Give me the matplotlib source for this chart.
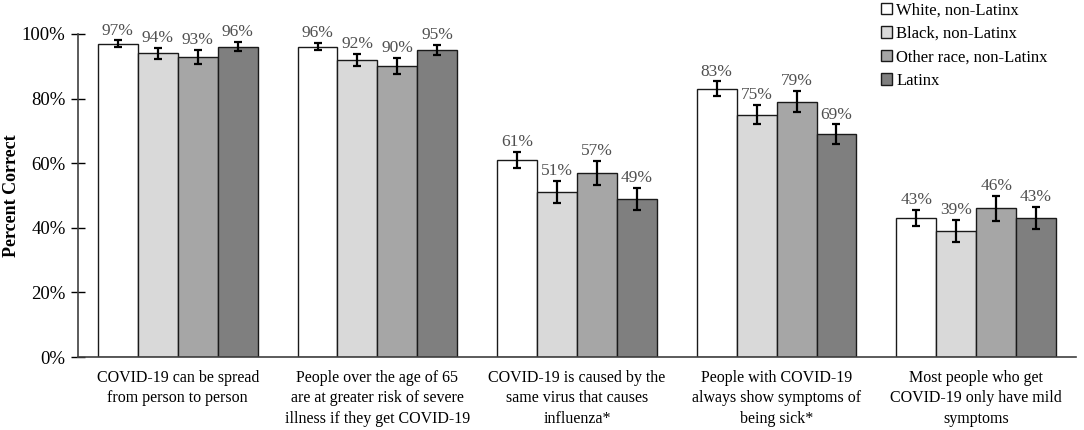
import matplotlib
matplotlib.use('Agg')
import matplotlib.pyplot as plt
import numpy as np

# ─── data ───
categories = [
    'COVID-19 can be spread\nfrom person to person',
    'People over the age of 65\nare at greater risk of severe\nillness if they get COVID-19',
    'COVID-19 is caused by the\nsame virus that causes\ninfluenza*',
    'People with COVID-19\nalways show symptoms of\nbeing sick*',
    'Most people who get\nCOVID-19 only have mild\nsymptoms',
]
groups = ['White, non-Latinx', 'Black, non-Latinx', 'Other race, non-Latinx', 'Latinx']

white = [97, 96, 61, 83, 43]
black = [94, 92, 51, 75, 39]
other = [93, 90, 57, 79, 46]
latinx = [96, 95, 49, 69, 43]

white_err = [1.0, 1.1, 2.5, 2.3, 2.4]
black_err = [1.6, 1.9, 3.4, 3.0, 3.3]
other_err = [2.2, 2.5, 3.8, 3.3, 4.0]
latinx_err = [1.4, 1.5, 3.4, 3.0, 3.4]

values = [white, black, other, latinx]
errors = [white_err, black_err, other_err, latinx_err]
colors = ['#FFFFFF', '#D9D9D9', '#A6A6A6', '#7F7F7F']

SERIF = ['Liberation Serif', 'DejaVu Serif']
plt.rcParams['font.family'] = SERIF

fig = plt.figure(figsize=(10.84, 4.30), dpi=100)
ax = fig.add_axes([78 / 1084, 1 - 357 / 430, 998 / 1084, 323 / 430])

x = np.arange(len(categories))
w = 0.2
offsets = [-1.5 * w, -0.5 * w, 0.5 * w, 1.5 * w]

for vals, errs, col, off, name in zip(values, errors, colors, offsets, groups):
    ax.bar(x + off, vals, width=w, color=col, edgecolor='#1A1A1A',
           linewidth=1.0, label=name, zorder=2)
    ax.errorbar(x + off, vals, yerr=errs, fmt='none', ecolor='black',
                elinewidth=1.6, capsize=3, capthick=1.6, zorder=3)
    for xi, v, e in zip(x + off, vals, errs):
        ax.text(xi, v + e + 0.6, f'{v}%', ha='center', va='bottom',
                fontsize=12.5, color='#505050', clip_on=False)

ax.set_ylim(0, 100)
ax.set_xlim(-0.5, len(categories) - 0.5)
ax.set_yticks(range(0, 101, 20))
ax.set_yticklabels([f'{t}%' for t in range(0, 101, 20)], fontsize=13.5)
ax.tick_params(axis='y', direction='inout', length=10, width=1, pad=4)
ax.set_xticks(x)
ax.set_xticklabels(categories, fontsize=11.5, linespacing=1.4)
ax.tick_params(axis='x', length=0, pad=9)

for s in ['top', 'right']:
    ax.spines[s].set_visible(False)
for s in ['left', 'bottom']:
    ax.spines[s].set_color('#404040')
    ax.spines[s].set_linewidth(1.2)

ax.set_ylabel('Percent Correct', fontsize=13, fontweight='bold', va='center')
ax.yaxis.set_label_coords(-66 / 998, 0.5)

fig.legend(loc='upper left', bbox_to_anchor=(874 / 1084, 1.01), frameon=False,
           fontsize=12, handlelength=0.7, handleheight=0.7, handletextpad=0.25,
           labelspacing=0.45, borderaxespad=0)

fig.savefig('out.png', dpi=100)
